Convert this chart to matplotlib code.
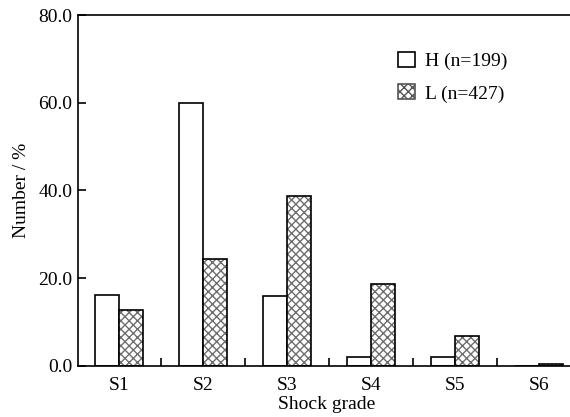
import matplotlib
matplotlib.use("Agg")
import matplotlib.pyplot as plt
import numpy as np
from matplotlib.patches import Patch
from matplotlib.ticker import FormatStrFormatter

plt.rcParams['font.family'] = ['Liberation Serif', 'DejaVu Serif']

grades = ['S1', 'S2', 'S3', 'S4', 'S5', 'S6']
h_vals = [16.2, 60.0, 16.0, 2.0, 2.0, 0.0]
l_vals = [12.7, 24.3, 38.8, 18.7, 6.8, 0.3]
h_label = 'H (n=199)'
l_label = 'L (n=427)'

fig = plt.figure(figsize=(5.7, 4.17), dpi=100)
ax = fig.add_axes([0.137, 0.123, 0.863, 0.841])

x = np.arange(len(grades))
w = 0.285
lw = 1.2

ax.bar(x - w / 2, h_vals, w, facecolor='white', edgecolor='black', linewidth=lw)
# hatch in grey, outline in black
ax.bar(x + w / 2, l_vals, w, facecolor='white', edgecolor='#6e6e6e', hatch='xxxx', linewidth=0)
ax.bar(x + w / 2, l_vals, w, facecolor='none', edgecolor='black', linewidth=lw)

ax.set_xlim(-0.49, 5.37)
ax.set_ylim(0, 80)
ax.set_yticks([0, 20, 40, 60, 80])
ax.yaxis.set_major_formatter(FormatStrFormatter('%.1f'))
ax.set_xticks(x)
ax.set_xticklabels(grades)
ax.set_xticks(x[:-1] + 0.5, minor=True)
ax.tick_params(axis='x', which='major', length=0, pad=8, labelsize=14)
ax.tick_params(axis='x', which='minor', direction='in', length=6, width=1.2)
ax.tick_params(axis='y', direction='in', length=6, width=1.2, labelsize=14, pad=4)
ax.spines['right'].set_visible(False)
for s in ['left', 'top', 'bottom']:
    ax.spines[s].set_linewidth(1.2)

ax.set_ylabel('Number / %', fontsize=14, labelpad=6)
ax.set_xlabel('Shock grade', fontsize=14, labelpad=2)
ax.xaxis.set_label_coords(0.506, -0.086)

handles = [Patch(facecolor='white', edgecolor='black', linewidth=1.2, label=h_label),
           Patch(facecolor='white', edgecolor='#555555', hatch='xxxx', linewidth=1.2, label=l_label)]
ax.legend(handles=handles, loc='upper left', bbox_to_anchor=(0.615, 0.945), frameon=False,
          fontsize=14, handlelength=0.85, handleheight=0.85, handletextpad=0.55, labelspacing=0.7)

fig.savefig('out.png', dpi=100)
